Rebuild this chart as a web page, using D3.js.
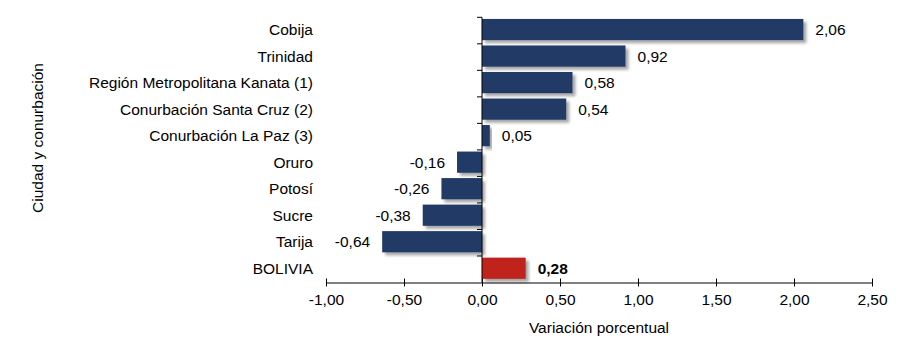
<!DOCTYPE html>
<html>
<head>
<meta charset="utf-8">
<script src="https://cdn.jsdelivr.net/npm/d3@7"></script>
<style>
  body { margin: 0; background: #fff; }
  svg text { font-family: "Liberation Sans", Arial, sans-serif; fill: #000; }
</style>
</head>
<body>
<div id="chart"></div>
<script>
var cities = ['Cobija', 'Trinidad', 'Región Metropolitana Kanata (1)', 'Conurbación Santa Cruz (2)',
    'Conurbación La Paz (3)', 'Oruro', 'Potosí', 'Sucre', 'Tarija', 'BOLIVIA'];
var variation = [2.06, 0.92, 0.58, 0.54, 0.05, -0.16, -0.26, -0.38, -0.64, 0.28];
var xTicks = [-1, -0.5, 0, 0.5, 1, 1.5, 2, 2.5];

var width = 906, height = 339;
var margin = { top: 17.3, right: 34, bottom: 56.5, left: 326 };
var fontSize = '15.5px';

var rows = cities.map(function(c, i) { return { city: c, value: variation[i], total: c === 'BOLIVIA' }; });

var svg = d3.select('#chart').append('svg')
    .attr('width', width)
    .attr('height', height);

var defs = svg.append('defs');
var shadow = defs.append('filter').attr('id', 'barShadow')
    .attr('x', '-10%').attr('y', '-20%').attr('width', '130%').attr('height', '160%');
shadow.append('feDropShadow')
    .attr('dx', 3).attr('dy', 3).attr('stdDeviation', 1.6)
    .attr('flood-color', '#000').attr('flood-opacity', 0.35);

var x = d3.scaleLinear().domain([-1, 2.5]).range([margin.left, width - margin.right]);
var y = d3.scaleBand().domain(cities).range([margin.top, height - margin.bottom]).paddingInner(0.2).paddingOuter(0.1);

var fmt = function(v) { return d3.format('.2f')(v).replace('.', ',').replace('\u2212', '-'); };

// bars
svg.append('g').selectAll('rect').data(rows).enter()
    .append('rect')
    .attr('x', function(d) { return x(Math.min(0, d.value)); })
    .attr('y', function(d) { return y(d.city) - 1; })
    .attr('width', function(d) { return Math.abs(x(d.value) - x(0)); })
    .attr('height', y.bandwidth())
    .attr('fill', function(d) { return d.total ? '#C0201F' : '#233A66'; })
    .attr('filter', 'url(#barShadow)');

// value labels
svg.append('g').selectAll('text').data(rows).enter()
    .append('text')
    .attr('x', function(d) { return d.value >= 0 ? x(d.value) + 12 : x(d.value) - 12; })
    .attr('y', function(d) { return y(d.city) - 1 + y.bandwidth() / 2; })
    .attr('dy', '0.35em')
    .attr('text-anchor', function(d) { return d.value >= 0 ? 'start' : 'end'; })
    .style('font-size', fontSize)
    .style('font-weight', function(d) { return d.total ? 'bold' : 'normal'; })
    .text(function(d) { return fmt(d.value); });

// x axis
var xAxis = svg.append('g')
    .attr('transform', 'translate(0,' + (height - margin.bottom) + ')')
    .call(d3.axisBottom(x).tickValues(xTicks).tickFormat(fmt).tickSizeInner(4).tickSizeOuter(0).tickPadding(7));
xAxis.select('.domain').attr('stroke', '#000');
xAxis.selectAll('.tick line').attr('y1', -4).attr('stroke', '#000');
xAxis.selectAll('.tick text').style('font-size', fontSize).style('font-family', '"Liberation Sans", Arial, sans-serif');

// category axis at zero, ticks between bands
var catAxis = svg.append('g');
catAxis.append('line')
    .attr('x1', x(0)).attr('x2', x(0))
    .attr('y1', margin.top).attr('y2', height - margin.bottom)
    .attr('stroke', '#000');
var step = y.step();
d3.range(cities.length).forEach(function(i) {
    var yy = margin.top + i * step;
    catAxis.append('line')
        .attr('x1', x(0) - 5).attr('x2', x(0))
        .attr('y1', yy).attr('y2', yy)
        .attr('stroke', '#000');
});

// category labels
svg.append('g').selectAll('text').data(cities).enter()
    .append('text')
    .attr('x', 313)
    .attr('y', function(d) { return y(d) - 1 + y.bandwidth() / 2; })
    .attr('dy', '0.35em')
    .attr('text-anchor', 'end')
    .style('font-size', fontSize)
    .text(function(d) { return d; });

// axis titles
svg.append('text')
    .attr('x', (x(-1) + x(2.5)) / 2)
    .attr('y', 333)
    .attr('text-anchor', 'middle')
    .style('font-size', fontSize)
    .text('Variación porcentual');

svg.append('text')
    .attr('transform', 'translate(43,138) rotate(-90)')
    .attr('text-anchor', 'middle')
    .style('font-size', fontSize)
    .text('Ciudad y conurbación');
</script>
</body>
</html>
